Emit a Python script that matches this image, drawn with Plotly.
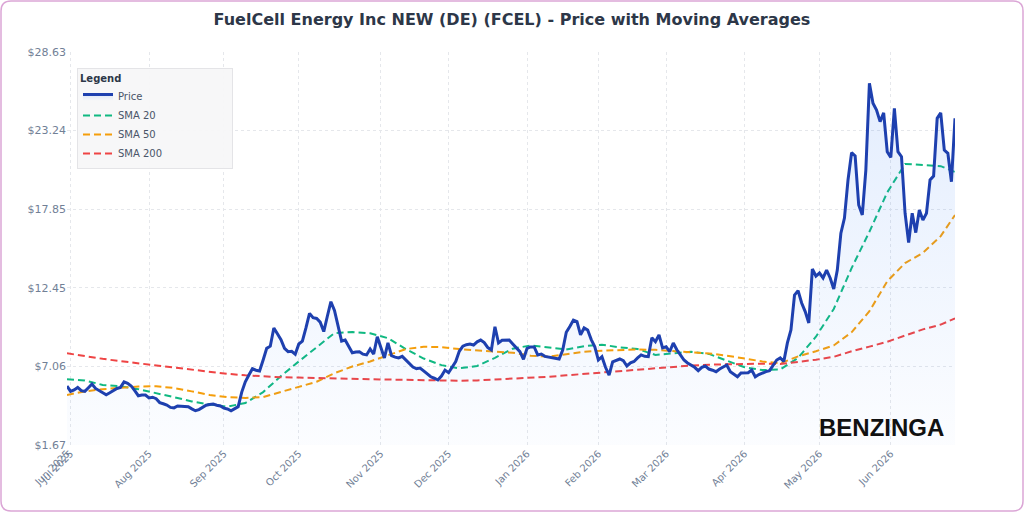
import pandas as pd
import plotly.graph_objects as go

# ---------------- data ----------------
holidays = ["2025-07-04", "2025-09-01", "2025-11-27", "2025-12-25", "2026-01-01",
            "2026-01-19", "2026-02-16", "2026-04-03", "2026-05-25", "2026-06-19"]
dates = [d.strftime("%Y-%m-%d") for d in pd.bdate_range("2025-06-30", "2026-06-26")
         if d.strftime("%Y-%m-%d") not in holidays]

price = [
    5.72, 5.35, 5.45, 5.62, 5.40, 5.35, 5.60, 5.85, 5.55, 5.40,
    5.25, 5.12, 5.25, 5.40, 5.55, 5.62, 6.00, 5.90, 5.72, 5.40,
    5.05, 5.10, 5.10, 4.90, 4.95, 4.85, 4.58, 4.50, 4.41, 4.25,
    4.22, 4.35, 4.33, 4.28, 4.30, 4.15, 4.02, 4.10, 4.28, 4.40,
    4.45, 4.48, 4.40, 4.35, 4.20, 4.14, 4.02, 4.15, 4.30, 5.30,
    6.00, 6.47, 6.90, 6.80, 6.75, 7.50, 8.30, 8.45, 9.70, 9.30,
    8.90, 8.30, 8.07, 8.10, 7.90, 8.60, 8.80, 9.70, 10.70, 10.40,
    10.35, 10.10, 9.45, 10.50, 11.50, 10.90, 9.80, 8.80, 8.87, 8.40,
    8.00, 8.05, 8.07, 7.90, 7.85, 8.26, 7.91, 9.10, 8.30, 7.64,
    8.67, 7.80, 7.70, 7.64, 7.75, 7.50, 7.25, 7.02, 6.90, 6.95,
    6.75, 6.54, 6.35, 6.25, 6.13, 6.40, 6.81, 6.63, 7.05, 7.40,
    8.10, 8.45, 8.55, 8.60, 8.53, 8.75, 8.87, 8.70, 8.35, 8.19,
    9.78, 8.67, 8.85, 8.87, 8.87, 8.60, 8.30, 8.07, 7.55, 8.30,
    8.40, 8.40, 7.85, 7.91, 7.75, 7.70, 7.62, 7.60, 7.57, 8.19,
    9.40, 9.80, 10.24, 10.13, 9.22, 9.70, 9.56, 8.90, 8.41, 7.50,
    7.73, 7.00, 6.47, 7.38, 7.45, 7.57, 7.45, 7.09, 7.31, 7.40,
    7.64, 7.85, 7.75, 7.73, 9.03, 8.76, 9.22, 8.33, 8.41, 8.07,
    8.67, 8.20, 7.85, 7.50, 7.30, 7.16, 7.00, 6.77, 7.00, 7.09,
    6.88, 6.80, 6.70, 6.88, 7.00, 7.16, 6.70, 6.50, 6.35, 6.61,
    6.63, 6.63, 6.81, 6.35, 6.50, 6.61, 6.70, 6.77, 7.10, 7.50,
    7.64, 7.40, 8.67, 9.56, 11.96, 12.26, 11.41, 10.82, 10.04, 13.74,
    13.26, 13.47, 13.13, 13.67, 13.13, 12.37, 13.67, 16.20, 17.24, 19.85,
    21.72, 21.50, 18.13, 17.45, 20.53, 26.48, 25.11, 24.65, 23.85, 24.46,
    21.79, 21.40, 24.77, 21.79, 21.45, 17.57, 15.55, 17.57, 16.24, 17.79,
    17.10, 17.57, 19.85, 20.12, 24.08, 24.46, 21.90, 21.68, 19.73, 24.08,
]

n = min(len(dates), len(price))
dates = dates[:n]
price = price[:n]

# moving averages at every 5th trading day (plus the last day)
sma_dates = dates[0::5] + ([dates[-1]] if (n - 1) % 5 else [])
sma20 = [6.18, 6.10, 5.79, 5.70, 5.50, 5.25, 4.95, 4.66, 4.45, 4.30,
         4.55, 5.30, 6.40, 7.40, 8.40, 9.35, 9.42, 9.33, 9.00, 8.25,
         7.60, 7.15, 6.93, 7.09, 7.65, 8.28, 8.50, 8.38, 8.22, 8.45,
         8.55, 8.37, 8.25, 7.85, 7.96, 8.07, 7.92, 7.45, 7.00, 6.81,
         6.85, 7.65, 9.10, 11.00, 13.80, 16.30, 19.00, 20.95, 20.85, 20.80,
         20.40]
sma50 = [5.10, 5.35, 5.50, 5.60, 5.68, 5.70, 5.58, 5.35, 5.10, 4.95,
         4.90, 4.96, 5.30, 5.65, 6.01, 6.60, 7.05, 7.40, 7.80, 8.25,
         8.41, 8.38, 8.25, 8.17, 8.10, 8.00, 7.80, 7.73, 7.90, 8.07,
         8.14, 8.20, 8.22, 8.20, 8.12, 8.05, 7.95, 7.80, 7.60, 7.40,
         7.27, 7.75, 8.10, 8.50, 9.40, 10.85, 12.90, 14.15, 14.85, 16.00,
         17.45]
sma200 = [7.96, 7.75, 7.58, 7.42, 7.27, 7.12, 6.98, 6.85, 6.72, 6.55,
          6.45, 6.38, 6.32, 6.30, 6.26, 6.24, 6.21, 6.18, 6.16, 6.13,
          6.11, 6.09, 6.08, 6.10, 6.15, 6.20, 6.28, 6.35, 6.45, 6.55,
          6.65, 6.75, 6.82, 6.95, 7.05, 7.12, 7.18, 7.22, 7.25, 7.25,
          7.22, 7.36, 7.52, 7.72, 8.10, 8.42, 8.75, 9.18, 9.60, 9.93,
          10.36]
m = min(len(sma_dates), len(sma20), len(sma50), len(sma200))

tick_dates = ["2025-06-30", "2025-07-01", "2025-08-01", "2025-09-02", "2025-10-01",
              "2025-11-03", "2025-12-01", "2026-01-02", "2026-02-02", "2026-03-02",
              "2026-04-01", "2026-05-01", "2026-06-01"]
tick_text = ["Jun 2025", "Jul 2025", "Aug 2025", "Sep 2025", "Oct 2025", "Nov 2025",
             "Dec 2025", "Jan 2026", "Feb 2026", "Mar 2026", "Apr 2026", "May 2026",
             "Jun 2026"]
y_ticks = [1.67, 7.062, 12.454, 17.846, 23.238, 28.63]
y_text = ["$1.67", "$7.06", "$12.45", "$17.85", "$23.24", "$28.63"]

# ---------------- figure ----------------
fig = go.Figure()

fig.add_trace(go.Scatter(
    x=sma_dates[:m], y=sma20[:m], mode="lines", name="SMA 20", legendrank=2,
    line=dict(color="#10b981", width=2, dash="7px,4px"), hoverinfo="skip"))
fig.add_trace(go.Scatter(
    x=sma_dates[:m], y=sma50[:m], mode="lines", name="SMA 50", legendrank=3,
    line=dict(color="#f59e0b", width=2, dash="7px,4px"), hoverinfo="skip"))
fig.add_trace(go.Scatter(
    x=sma_dates[:m], y=sma200[:m], mode="lines", name="SMA 200", legendrank=4,
    line=dict(color="#ef4444", width=2, dash="7px,4px"), hoverinfo="skip"))
fig.add_trace(go.Scatter(
    x=dates, y=price, mode="lines", name="Price", legendrank=1,
    line=dict(color="#1e40af", width=3),
    fill="tozeroy",
    fillgradient=dict(type="vertical",
                      colorscale=[[0, "rgba(59,130,246,0.01)"], [1, "rgba(59,130,246,0.14)"]]),
))

L, R, T, B = 67, 69, 52, 67
W, H = 1024, 512
pw, ph = W - L - R, H - T - B


def px_x(p):
    return (p - L) / pw


def px_y(p):
    return (H - B - p) / ph


# rounded outer frame
x0, x1 = px_x(1), px_x(W - 1)
y0, y1 = px_y(H - 1), px_y(1)
rx, ry = 10 / pw, 10 / ph
frame_path = (f"M {x0+rx},{y1} L {x1-rx},{y1} Q {x1},{y1} {x1},{y1-ry} "
              f"L {x1},{y0+ry} Q {x1},{y0} {x1-rx},{y0} "
              f"L {x0+rx},{y0} Q {x0},{y0} {x0},{y0+ry} "
              f"L {x0},{y1-ry} Q {x0},{y1} {x0+rx},{y1} Z")

fig.update_layout(
    width=W, height=H,
    margin=dict(l=L, r=R, t=T, b=B),
    paper_bgcolor="white", plot_bgcolor="white",
    font=dict(family="DejaVu Sans", color="#718096", size=11),
    title=dict(text="<b>FuelCell Energy Inc NEW (DE) (FCEL) - Price with Moving Averages</b>",
               x=0.5, xanchor="center", y=0.963, yanchor="middle",
               font=dict(size=16, color="#2d3748", family="DejaVu Sans")),
    showlegend=True,
    legend=dict(x=px_x(77), y=px_y(68), xanchor="left", yanchor="top",
                bgcolor="rgba(247,247,248,0.95)", bordercolor="#e4e4e7", borderwidth=1,
                title=dict(text="<b>Legend</b>" + "&nbsp;" * 34,
                           font=dict(size=10, color="#2d3748")),
                font=dict(size=10, color="#4a5568"), itemwidth=30,
                tracegroupgap=0),
    xaxis=dict(type="category", categoryorder="array", categoryarray=dates,
               range=[0, n - 1], tickmode="array", tickvals=tick_dates, ticktext=tick_text,
               tickangle=-45, showgrid=True, gridcolor="#e5e7eb", griddash="dot",
               gridwidth=1, showline=False, zeroline=False, ticks="",
               tickfont=dict(size=10, color="#718096")),
    yaxis=dict(range=[1.67, 28.63], tickmode="array", tickvals=y_ticks, ticktext=y_text,
               showgrid=True, gridcolor="#e5e7eb", griddash="dot", gridwidth=1,
               showline=False, zeroline=False, ticks="",
               tickfont=dict(size=11, color="#718096")),
    shapes=[dict(type="path", xref="paper", yref="paper", path=frame_path,
                 line=dict(color="#dba6d6", width=1.5), fillcolor="rgba(0,0,0,0)",
                 layer="above")],
    annotations=[dict(text="<b>BENZINGA</b>", xref="paper", yref="paper",
                      x=px_x(881), y=px_y(427), xanchor="center", yanchor="middle",
                      showarrow=False,
                      font=dict(family="Liberation Sans", size=24, color="#111111"))],
)

fig.write_html("out.html")
